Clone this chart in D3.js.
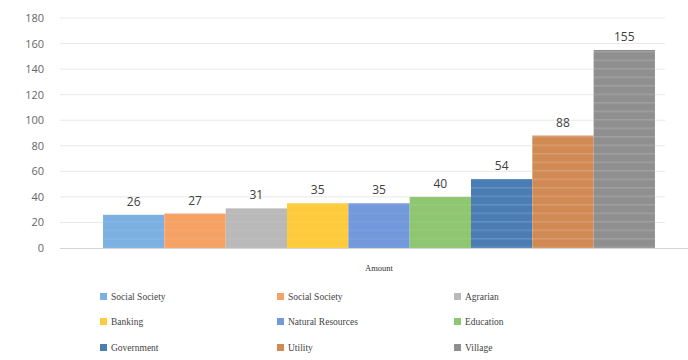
<!DOCTYPE html>
<html><head><meta charset="utf-8">
<script src="https://cdn.jsdelivr.net/npm/d3@7"></script>
<style>body{margin:0;background:#fff}svg{display:block}</style>
</head><body>
<svg id="c" width="688" height="360"></svg>
<script>
const category = ["Amount"];
const seriesNames = ["Social Society","Social Society","Agrarian","Banking","Natural Resources","Education","Government","Utility","Village"];
const legendLabels = ["Social Society","Social Society","Agrarian","Banking","Natural Resources","Education","Government","Utility","Village"];
const values = [26,27,31,35,35,40,54,88,155];
const colors = ["#7db0e2","#f5a264","#b9b9b9","#fdcb3c","#7399dc","#8fc670","#4a7db4","#d28a55","#8f8f8f"];
const yTicks = [0,20,40,60,80,100,120,140,160,180];

const svg = d3.select("#c");
const y = d3.scaleLinear().domain([0,180]).range([248,18]);
const x0 = d3.scaleBand().domain(category).range([60,698]).paddingOuter(0.078).paddingInner(0);
const x1 = d3.scaleBand().domain(d3.range(values.length)).range([0,x0.bandwidth()]).padding(0);

// gridlines
svg.append("g").selectAll("line").data(yTicks.filter(d=>d>0)).join("line")
  .attr("x1",60).attr("x2",665).attr("y1",d=>y(d)).attr("y2",d=>y(d))
  .attr("stroke","#e8e8e8").attr("stroke-width",1);

// y axis labels
const ya = svg.append("g").attr("transform","translate(44,0)")
  .call(d3.axisLeft(y).tickValues(yTicks).tickSize(0).tickPadding(0));
ya.select(".domain").remove();
ya.selectAll("text").attr("font-family","Open Sans, Liberation Sans, sans-serif")
  .attr("font-size",11).attr("fill","#666");

// stripe patterns
const defs = svg.append("defs");
colors.forEach((c,i)=>{
  const p = defs.append("pattern").attr("id","p"+i).attr("patternUnits","userSpaceOnUse")
    .attr("width",8).attr("height",8.5);
  p.append("rect").attr("width",8).attr("height",8.5).attr("fill",c);
  p.append("rect").attr("y",0).attr("width",8).attr("height",1.5)
    .attr("fill", i>=6 ? "#ffffff" : "#ffffff").attr("opacity", i>=6 ? 0.14 : 0.06);
});

// bars
const g = svg.append("g").attr("transform",`translate(${x0("Amount")},0)`);
g.selectAll("rect").data(values).join("rect")
  .attr("x",(d,i)=>x1(i)).attr("width",x1.bandwidth())
  .attr("y",d=>y(d)).attr("height",d=>y(0)-y(d))
  .attr("fill",(d,i)=>`url(#p${i})`);

// baseline
svg.append("line").attr("x1",60).attr("x2",688).attr("y1",y(0)+0.5).attr("y2",y(0)+0.5)
  .attr("stroke","#d4d4d4");

// value labels
g.selectAll("text.v").data(values).join("text").attr("class","v")
  .attr("x",(d,i)=>x1(i)+x1.bandwidth()/2).attr("y",d=>y(d)-9)
  .attr("text-anchor","middle").attr("font-family","Open Sans, Liberation Sans, sans-serif")
  .attr("font-size",12).attr("fill","#404040").text(d=>d);

// category label
svg.append("text").attr("x",x0("Amount")+x0.bandwidth()/2).attr("y",271)
  .attr("text-anchor","middle").attr("font-family","Liberation Serif, serif")
  .attr("font-size",8.5).attr("fill","#333").text(category[0]);

// legend
const colX = [100,277,454], rowY = [297,322,348];
const lg = svg.append("g");
legendLabels.forEach((t,i)=>{
  const cx = colX[i%3], cy = rowY[Math.floor(i/3)];
  lg.append("rect").attr("x",cx).attr("y",cy-4).attr("width",7).attr("height",7).attr("fill",colors[i]);
  lg.append("text").attr("x",cx+11).attr("y",cy+3).attr("font-family","Liberation Serif, serif")
    .attr("font-size",9.5).attr("fill","#444").text(t);
});
</script>
</body></html>
